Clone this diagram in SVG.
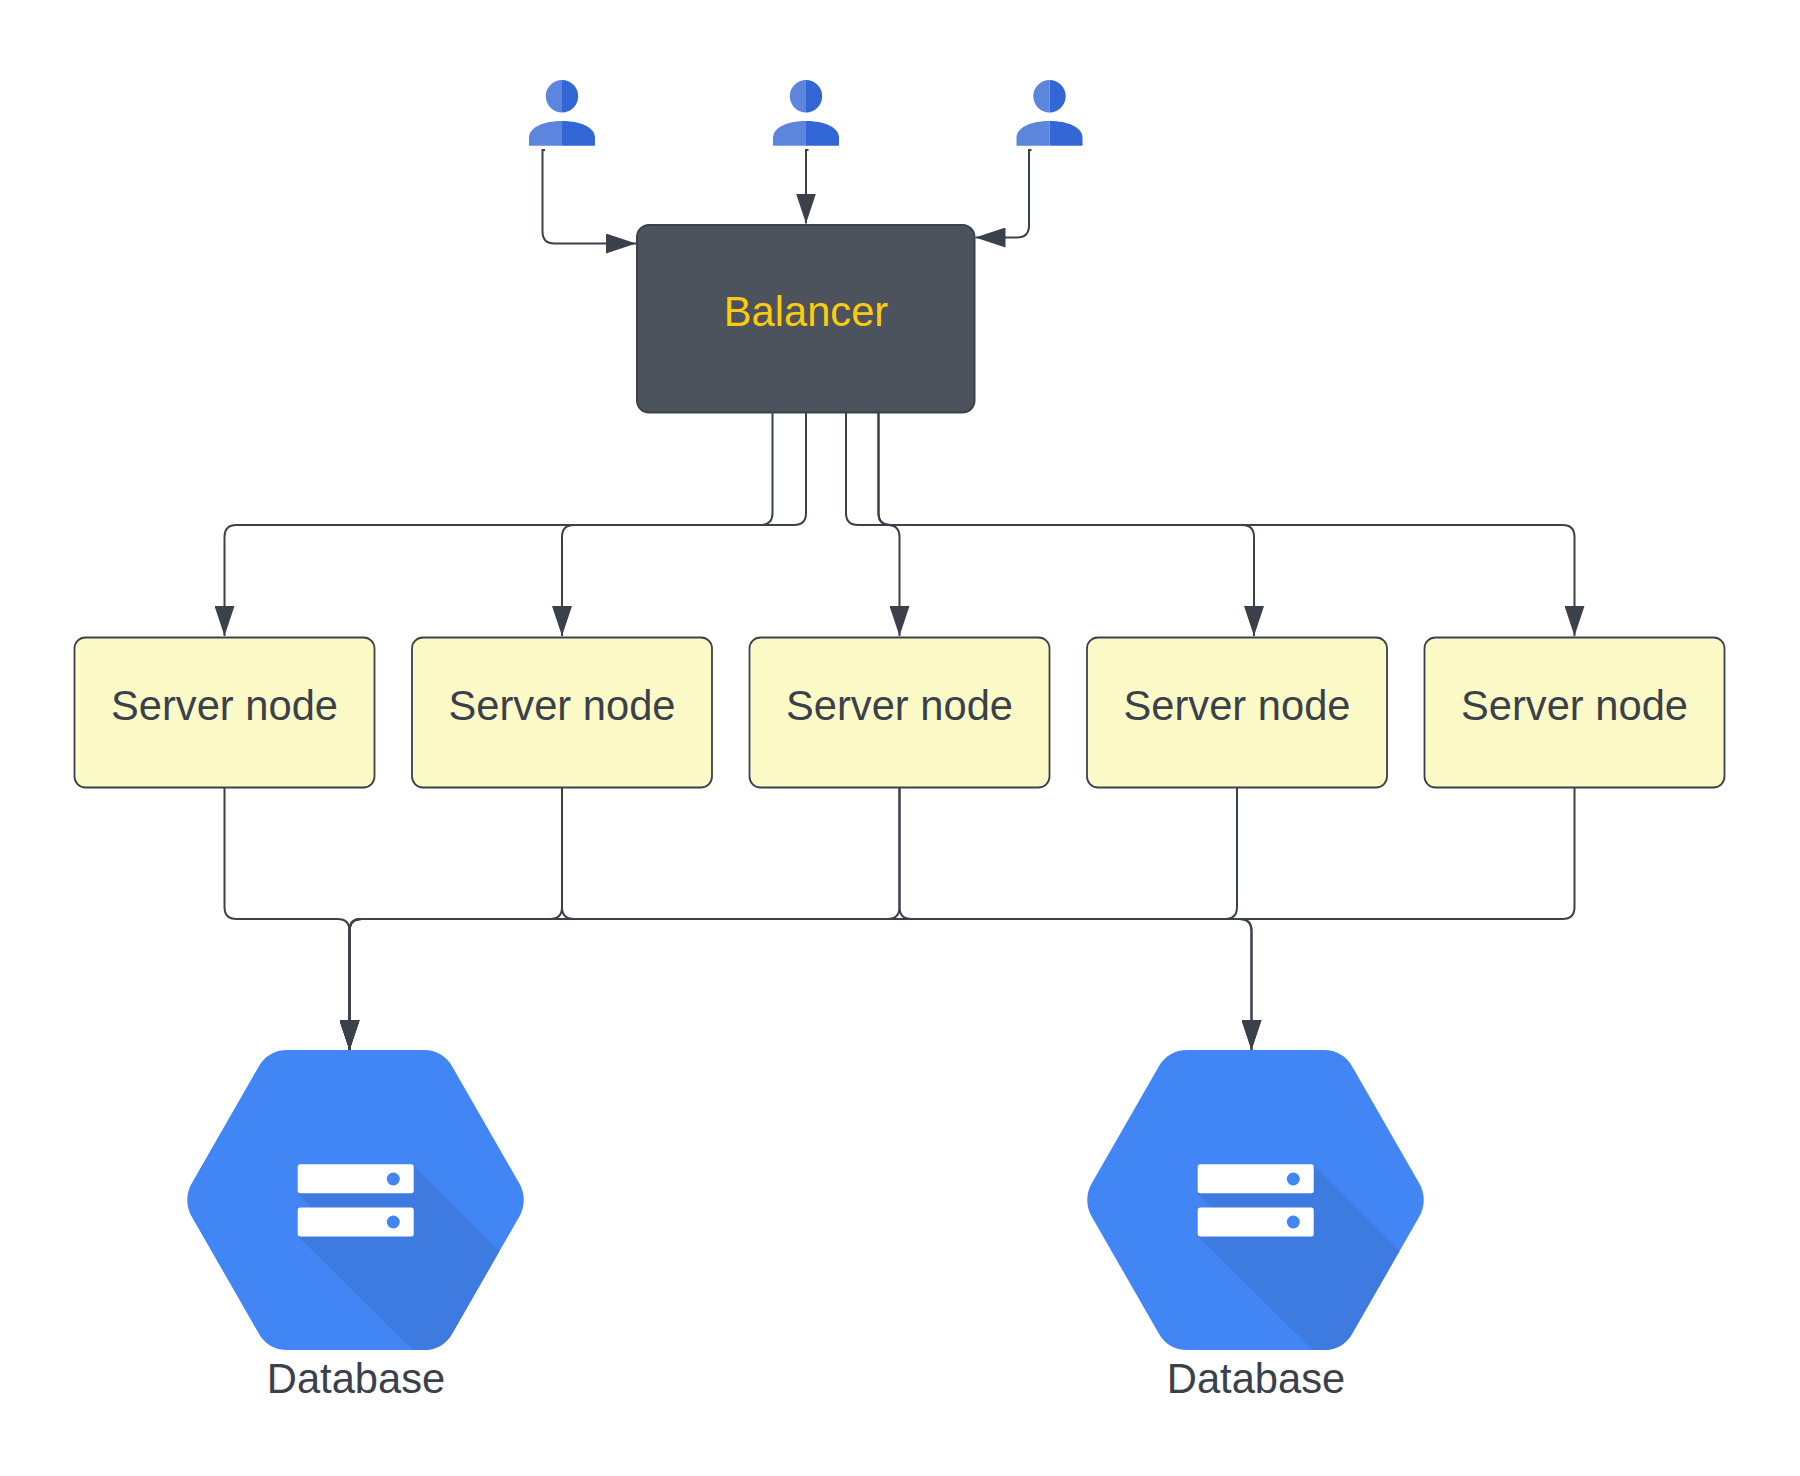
<svg xmlns="http://www.w3.org/2000/svg" xmlns:xlink="http://www.w3.org/1999/xlink" width="1800" height="1476" viewBox="0 0 1800 1476">
<style>
text{font-family:"Liberation Sans",Arial,sans-serif;font-size:41.67px;fill:#3a414a;text-anchor:middle}
.server{fill:#fcfbc8;stroke:#3a414a;stroke-width:1.8}
.bal{fill:#4c535d;stroke:#3a414a;stroke-width:2}
.c{fill:none;stroke:#3a414a;stroke-width:2}
.ca{fill:none;stroke:#3a414a;stroke-width:2;marker-end:url(#arrow)}
.ul{fill:#5c85de}.ur{fill:#3367d6}
</style>
<defs>
<marker id="arrow" markerUnits="userSpaceOnUse" markerWidth="30" markerHeight="20" refX="30" refY="10" orient="auto" viewBox="0 0 30 20"><path d="M0 0L30 10L0 20Z" fill="#3a414a"/></marker>
<g id="user">
<path class="ul" d="M0 80A16.2 16.2 0 0 0 0 112.4Z"/>
<path class="ur" d="M0 80A16.2 16.2 0 0 1 0 112.4Z"/>
<path class="ul" d="M0 121C-18 121-33 127-33 138V145.7H0Z"/>
<path class="ur" d="M0 121C18 121 33 127 33 138V145.7H0Z"/>
</g>
<clipPath id="hexclip"><path id="hexp" d="M-68 1050H68C81 1050 91 1056 97 1067L163 1182C170 1193 170 1207 163 1218L97 1333C91 1344 81 1350 68 1350H-68C-81 1350-91 1344-97 1333L-163 1218C-170 1207-170 1193-163 1182L-97 1067C-91 1056-81 1050-68 1050Z"/></clipPath>
<g id="db">
<path d="M-68 1050H68C81 1050 91 1056 97 1067L163 1182C170 1193 170 1207 163 1218L97 1333C91 1344 81 1350 68 1350H-68C-81 1350-91 1344-97 1333L-163 1218C-170 1207-170 1193-163 1182L-97 1067C-91 1056-81 1050-68 1050Z" fill="#4285f4"/>
<path clip-path="url(#hexclip)" d="M58 1165L200 1307V1400H108L-58 1236V1207.4H-44L-58 1193Z" fill="#3e7be0"/>
<rect x="-57.8" y="1164.3" width="116" height="29" rx="2.5" fill="#fff"/>
<rect x="-57.8" y="1207.4" width="116" height="29" rx="2.5" fill="#fff"/>
<circle cx="37.8" cy="1179" r="6.5" fill="#4285f4"/>
<circle cx="37.8" cy="1222" r="6.5" fill="#4285f4"/>
</g>
</defs>
<g id="connectors">
<path class="ca" d="M545 150H542.5V231.5Q542.5 243.5 554.5 243.5H636"/>
<path class="ca" d="M808.5 150H806V223.5"/>
<path class="ca" d="M1031.5 150H1029V225.5Q1029 237.5 1017 237.5H975.5"/>
<path class="ca" d="M772.5 413V513Q772.5 525 760.5 525H236.5Q224.5 525 224.5 537V636"/>
<path class="ca" d="M806 413V513Q806 525 794 525H574Q562 525 562 537V636"/>
<path class="ca" d="M846 413V513Q846 525 858 525H887.5Q899.5 525 899.5 537V636"/>
<path class="ca" d="M878.5 413V513Q878.5 525 890.5 525H1242Q1254 525 1254 537V636"/>
<path class="ca" d="M878.5 413V513Q878.5 525 890.5 525H1562.5Q1574.5 525 1574.5 537V636"/>
<path class="ca" d="M224.5 788V907Q224.5 919 236.5 919H337.5Q349.5 919 349.5 931V1050"/>
<path class="ca" d="M562 788V907Q562 919 550 919H361.5Q349.5 919 349.5 931V1050"/>
<path class="ca" d="M562 788V907Q562 919 574 919H1239.5Q1251.5 919 1251.5 931V1050"/>
<path class="ca" d="M899.5 788V907Q899.5 919 887.5 919H361.5Q349.5 919 349.5 931V1050"/>
<path class="ca" d="M899.5 788V907Q899.5 919 911.5 919H1239.5Q1251.5 919 1251.5 931V1050"/>
<path class="ca" d="M1237 788V907Q1237 919 1225 919H361.5Q349.5 919 349.5 931V1050"/>
<path class="ca" d="M1574.5 788V907Q1574.5 919 1562.5 919H361.5Q349.5 919 349.5 931V1050"/>
</g>
<g id="user-1"><use href="#user" transform="translate(562 0)"/></g>
<g id="user-2"><use href="#user" transform="translate(806 0)"/></g>
<g id="user-3"><use href="#user" transform="translate(1049.5 0)"/></g>
<g id="balancer"><rect class="bal" x="637" y="225" width="337.5" height="187.5" rx="12"/><text x="806" y="326" style="fill:#fccb0e">Balancer</text></g>
<g id="server-1"><rect class="server" x="74.5" y="637.5" width="300" height="150" rx="11"/><text x="224.5" y="719.5">Server node</text></g>
<g id="server-2"><rect class="server" x="412" y="637.5" width="300" height="150" rx="11"/><text x="562" y="719.5">Server node</text></g>
<g id="server-3"><rect class="server" x="749.5" y="637.5" width="300" height="150" rx="11"/><text x="899.5" y="719.5">Server node</text></g>
<g id="server-4"><rect class="server" x="1087" y="637.5" width="300" height="150" rx="11"/><text x="1237" y="719.5">Server node</text></g>
<g id="server-5"><rect class="server" x="1424.5" y="637.5" width="300" height="150" rx="11"/><text x="1574.5" y="719.5">Server node</text></g>
<g id="database-1"><use href="#db" transform="translate(355.5 0)"/><text x="356" y="1392.5">Database</text></g>
<g id="database-2"><use href="#db" transform="translate(1255.5 0)"/><text x="1256" y="1392.5">Database</text></g>
</svg>
